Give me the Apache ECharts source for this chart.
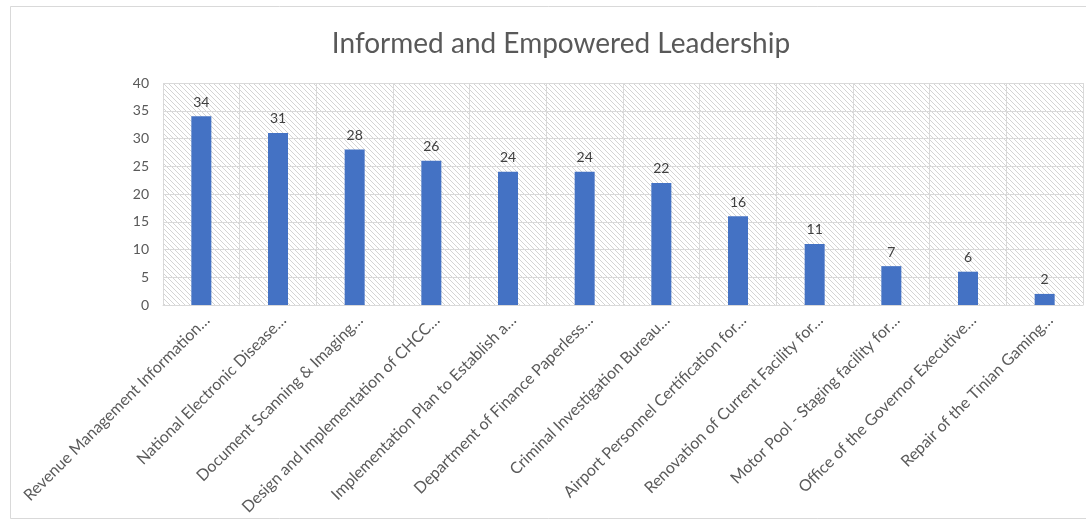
<!DOCTYPE html>
<html>
<head>
<meta charset="utf-8">
<script src="https://cdn.jsdelivr.net/npm/echarts@6/dist/echarts.min.js"></script>
<style>
html,body{margin:0;padding:0;background:#fff;}
#c{width:1086px;height:521px;}
</style>
</head>
<body>
<div id="c"></div>
<script>
const categories = [
  "Revenue Management Information…",
  "National Electronic Disease…",
  "Document Scanning & Imaging…",
  "Design and Implementation of CHCC…",
  "Implementation Plan to Establish a…",
  "Department of Finance Paperless…",
  "Criminal Investigation Bureau…",
  "Airport Personnel Certification for…",
  "Renovation of Current Facility for…",
  "Motor Pool - Staging facility for…",
  "Office of the Governor Executive…",
  "Repair of the Tinian Gaming…"
];
const values = [34, 31, 28, 26, 24, 24, 22, 16, 11, 7, 6, 2];
const yTicks = { min: 0, max: 40, interval: 5 };

// hatch pattern
const tile = document.createElement('canvas');
tile.width = 5; tile.height = 5;
const g = tile.getContext('2d');
g.fillStyle = '#ffffff'; g.fillRect(0,0,5,5);
g.strokeStyle = '#d4d4d4'; g.lineWidth = 1;
g.beginPath();
g.moveTo(-1,-1); g.lineTo(6,6);
g.moveTo(-1,4); g.lineTo(1,6);
g.moveTo(4,-1); g.lineTo(6,1);
g.stroke();

const font = 'Lato, "Open Sans", sans-serif';
const chart = echarts.init(document.getElementById('c'), null, {renderer:'canvas'});
chart.setOption({
  animation: false,
  backgroundColor: '#ffffff',
  title: {
    text: 'Informed and Empowered Leadership',
    left: 556, top: 25, textAlign: 'center',
    textStyle: { fontFamily: font, fontSize: 28, fontWeight: 'normal', color: '#595959' }
  },
  graphic: [{
    type: 'rect', shape: { x: 10.5, y: 6.5, width: 1100, height: 512 },
    style: { fill: null, stroke: '#d9d9d9', lineWidth: 1 }, z: -1
  }],
  grid: {
    left: 163, top: 83, width: 920, height: 222,
    show: true, backgroundColor: { image: tile, repeat: 'repeat' }, borderWidth: 0
  },
  xAxis: {
    type: 'category', data: categories,
    axisLine: { show: true, lineStyle: { color: '#d9d9d9' } },
    axisTick: { show: false },
    splitLine: { show: true, lineStyle: { color: '#d9d9d9' } },
    axisLabel: {
      rotate: 45, interval: 0, margin: 7, verticalAlign: 'top',
      fontFamily: font, fontSize: 16, color: '#5a5a5a'
    }
  },
  yAxis: {
    type: 'value', min: yTicks.min, max: yTicks.max, interval: yTicks.interval,
    axisLine: { show: false }, axisTick: { show: false },
    splitLine: { show: true, lineStyle: { color: '#d9d9d9' } },
    axisLabel: { fontFamily: font, fontSize: 14, color: '#595959', margin: 14 }
  },
  series: [{
    type: 'bar', data: values, barWidth: 20,
    itemStyle: { color: '#4472C4' },
    label: { show: true, position: 'top', distance: 7, fontFamily: font, fontSize: 14, color: '#404040' }
  }]
});
</script>
</body>
</html>
